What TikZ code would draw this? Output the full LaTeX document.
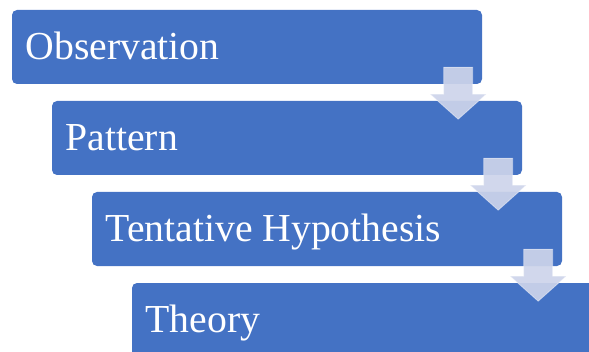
\documentclass[tikz,border=0pt]{standalone}
\usepackage{fontspec}
\setmainfont{Liberation Serif}
\usetikzlibrary{calc}
\definecolor{boxblue}{HTML}{4472C4}
\definecolor{arrfill}{RGB}{205,212,234}
\tikzset{
  stepbox/.style={fill=boxblue, draw=none, rounded corners=5pt, minimum width=470pt, minimum height=74pt, inner sep=0pt, anchor=center},
  lbl/.style={text=white, font=\fontsize{39.7}{40}\selectfont, anchor=base west, inner sep=0pt},
  blockarrow/.style={fill=arrfill, fill opacity=0.92, draw=white, draw opacity=0.45, line width=0.8pt}
}
\begin{document}
\begin{tikzpicture}[x=1pt,y=1pt]
\useasboundingbox (0,0) rectangle (589,351);
\clip (0,0) rectangle (589,351);
\node[stepbox] (b1) at (247,304) {};
\node[stepbox] (b2) at (287,213) {};
\node[stepbox] (b3) at (327,122) {};
\node[stepbox] (b4) at (367,31) {};
\foreach \b/\t in {b1/Observation, b2/Pattern, b3/Tentative Hypothesis, b4/Theory}{
  \node[lbl] (t\b) at ($(\b.south west)+(13.5,25)$) {\t};
}
\foreach \b in {b1,b2,b3}{
  \coordinate (a\b) at (\b.south east);
  \draw[blockarrow] ($(a\b)+(-38.5,17)$) -- ($(a\b)+(-9.5,17)$) -- ($(a\b)+(-9.5,-10)$)
    -- ($(a\b)+(4,-10)$) -- ($(a\b)+(-24,-35)$) -- ($(a\b)+(-52,-10)$)
    -- ($(a\b)+(-38.5,-10)$) -- cycle;
}
\end{tikzpicture}
\end{document}
